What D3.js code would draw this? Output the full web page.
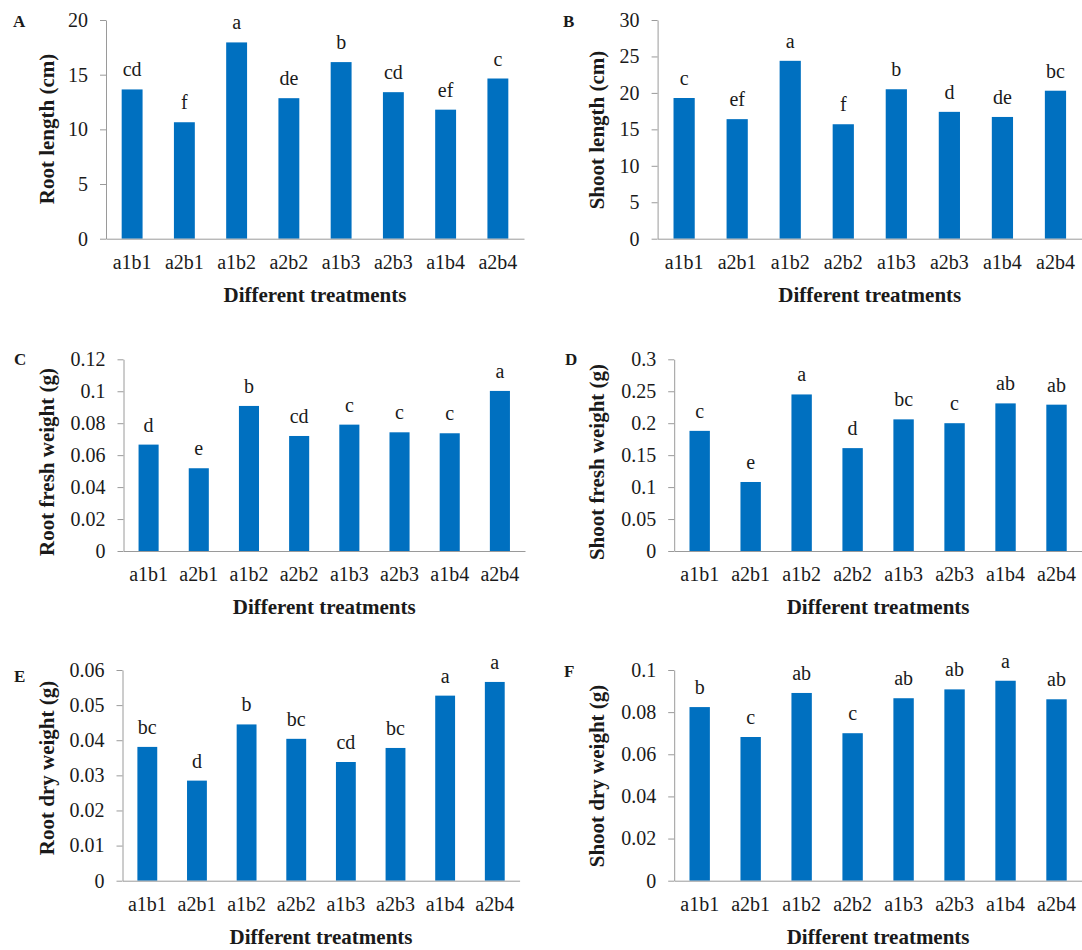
<!DOCTYPE html>
<html>
<head>
<meta charset="utf-8">
<script src="https://cdn.jsdelivr.net/npm/d3@7"></script>
<style>
body { margin: 0; background: #fff; }
svg text { font-family: "Liberation Serif", "Times New Roman", serif; fill: #1a1a1a; }
</style>
</head>
<body>
<div id="chart"></div>
<script>
let treatments = ["a1b1", "a2b1", "a1b2", "a2b2", "a1b3", "a2b3", "a1b4", "a2b4"];

let rootLength = [13.65, 10.65, 17.95, 12.85, 16.15, 13.4, 11.8, 14.65];
let rootLengthLetters = ["cd", "f", "a", "de", "b", "cd", "ef", "c"];
let rootLengthTicks = [0, 5, 10, 15, 20];

let shootLength = [19.3, 16.4, 24.4, 15.7, 20.5, 17.4, 16.7, 20.3];
let shootLengthLetters = ["c", "ef", "a", "f", "b", "d", "de", "bc"];
let shootLengthTicks = [0, 5, 10, 15, 20, 25, 30];

let rootFresh = [0.0666, 0.0518, 0.0908, 0.072, 0.0791, 0.0743, 0.0737, 0.1002];
let rootFreshLetters = ["d", "e", "b", "cd", "c", "c", "c", "a"];
let rootFreshTicks = [0, 0.02, 0.04, 0.06, 0.08, 0.1, 0.12];

let shootFresh = [0.188, 0.108, 0.245, 0.161, 0.206, 0.2, 0.231, 0.229];
let shootFreshLetters = ["c", "e", "a", "d", "bc", "c", "ab", "ab"];
let shootFreshTicks = [0, 0.05, 0.1, 0.15, 0.2, 0.25, 0.3];

let rootDry = [0.0381, 0.0285, 0.0445, 0.0404, 0.0338, 0.0378, 0.0527, 0.0566];
let rootDryLetters = ["bc", "d", "b", "bc", "cd", "bc", "a", "a"];
let rootDryTicks = [0, 0.01, 0.02, 0.03, 0.04, 0.05, 0.06];

let shootDry = [0.0824, 0.0682, 0.0891, 0.07, 0.0866, 0.0908, 0.0949, 0.0861];
let shootDryLetters = ["b", "c", "ab", "c", "ab", "ab", "a", "ab"];
let shootDryTicks = [0, 0.02, 0.04, 0.06, 0.08, 0.1];

let xTitle = "Different treatments";

// layout of the six panels (pixel boxes of each plot area)
let panels = [
    { tag: "A", title: "Root length (cm)", values: rootLength, letters: rootLengthLetters, ticks: rootLengthTicks,
      x0: 106, x1: 524, y0: 20, y1: 238.7, tagX: 13, tagY: 27, labX: 54, labY: 129 },
    { tag: "B", title: "Shoot length (cm)", values: shootLength, letters: shootLengthLetters, ticks: shootLengthTicks,
      x0: 657.6, x1: 1082, y0: 20, y1: 238.7, tagX: 563, tagY: 27, labX: 604, labY: 130 },
    { tag: "C", title: "Root fresh weight (g)", values: rootFresh, letters: rootFreshLetters, ticks: rootFreshTicks,
      x0: 123.5, x1: 525, y0: 359.3, y1: 551, tagX: 14, tagY: 365, labX: 54, labY: 462 },
    { tag: "D", title: "Shoot fresh weight (g)", values: shootFresh, letters: shootFreshLetters, ticks: shootFreshTicks,
      x0: 674.2, x1: 1082, y0: 359.3, y1: 551, tagX: 565, tagY: 365, labX: 604, labY: 462 },
    { tag: "E", title: "Root dry weight (g)", values: rootDry, letters: rootDryLetters, ticks: rootDryTicks,
      x0: 122.5, x1: 519.6, y0: 670, y1: 880.7, tagX: 14, tagY: 682, labX: 54, labY: 768 },
    { tag: "F", title: "Shoot dry weight (g)", values: shootDry, letters: shootDryLetters, ticks: shootDryTicks,
      x0: 674.2, x1: 1082, y0: 670, y1: 880.7, tagX: 564, tagY: 677, labX: 604, labY: 776 }
];

let svg = d3.select("#chart").append("svg")
    .attr("width", 1082)
    .attr("height", 950);

function drawPanel(p) {
    let g = svg.append("g");

    let x = d3.scaleBand()
        .domain(treatments)
        .range([p.x0, p.x1])
        .paddingInner(0.6)
        .paddingOuter(0.3);

    let y = d3.scaleLinear()
        .domain([0, d3.max(p.ticks)])
        .range([p.y1, p.y0]);

    // y axis
    let ya = g.append("g")
        .attr("transform", `translate(${p.x0},0)`)
        .call(d3.axisLeft(y).tickValues(p.ticks).tickFormat(d => String(d))
            .tickSize(6).tickSizeOuter(0).tickPadding(12));
    ya.selectAll("path, line").attr("stroke", "#9a9a9a");
    ya.selectAll("text").attr("font-size", 20).attr("fill", "#1a1a1a")
        .style("font-family", "'Liberation Serif', serif");

    // bars
    g.selectAll("rect")
        .data(p.values)
        .join("rect")
        .attr("x", (d, i) => x(treatments[i]))
        .attr("y", d => y(d))
        .attr("width", x.bandwidth())
        .attr("height", d => y(0) - y(d))
        .attr("fill", "#0070C0");

    // x axis
    let xa = g.append("g")
        .attr("transform", `translate(0,${p.y1})`)
        .call(d3.axisBottom(x).tickSize(0).tickSizeOuter(0).tickPadding(16));
    xa.select("path").attr("stroke", "#9a9a9a");
    xa.selectAll("text").attr("font-size", 20).attr("fill", "#1a1a1a")
        .style("font-family", "'Liberation Serif', serif");

    // significance letters
    g.selectAll("text.sig")
        .data(p.letters)
        .join("text")
        .attr("class", "sig")
        .attr("x", (d, i) => x(treatments[i]) + x.bandwidth() / 2)
        .attr("y", (d, i) => y(p.values[i]) - 13)
        .attr("text-anchor", "middle")
        .attr("font-size", 20)
        .text(d => d);

    // axis titles
    g.append("text")
        .attr("transform", `translate(${p.labX},${p.labY}) rotate(-90)`)
        .attr("text-anchor", "middle")
        .attr("font-size", 21)
        .attr("font-weight", "bold")
        .text(p.title);

    g.append("text")
        .attr("x", (p.x0 + p.x1) / 2)
        .attr("y", p.y1 + 63)
        .attr("text-anchor", "middle")
        .attr("font-size", 21)
        .attr("font-weight", "bold")
        .text(xTitle);

    // panel tag
    g.append("text")
        .attr("x", p.tagX)
        .attr("y", p.tagY)
        .attr("font-size", 17)
        .attr("font-weight", "bold")
        .text(p.tag);
}

panels.forEach(drawPanel);
</script>
</body>
</html>
